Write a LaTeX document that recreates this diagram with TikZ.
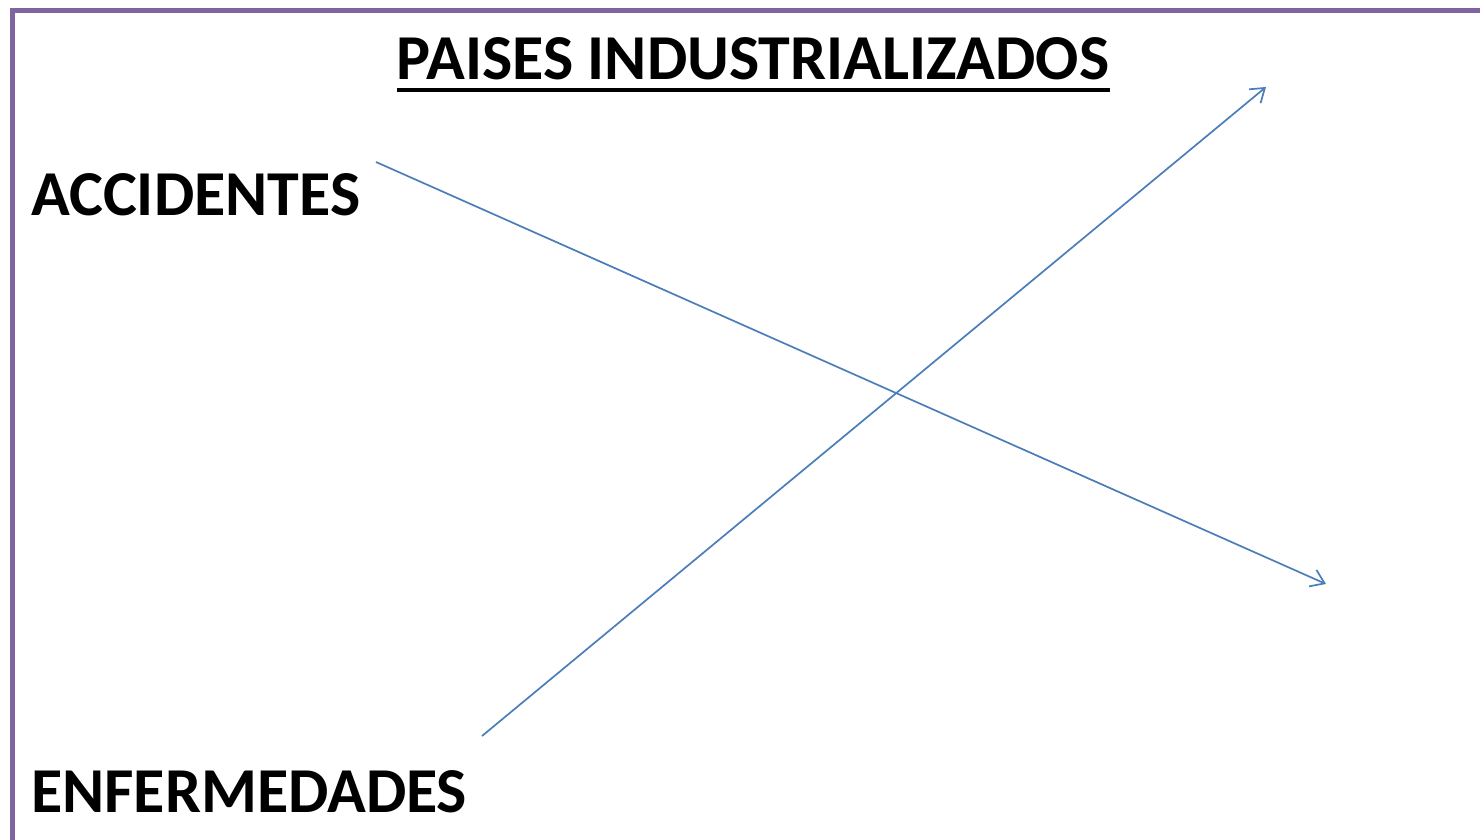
\documentclass[tikz,border=0pt]{standalone}
\usepackage{fontspec}
\setmainfont{Carlito}
\usetikzlibrary{arrows.meta}
\definecolor{frame}{HTML}{8064A2}
\definecolor{lineblue}{HTML}{4A7EBB}
\tikzset{
  lbl/.style={font=\fontsize{64}{64}\selectfont\bfseries, inner sep=0pt, anchor=base west},
  conn/.style={draw=lineblue, line width=1.7pt, -{Straight Barb[length=13pt,width=18pt,line width=1.7pt]}}
}
\begin{document}
\begin{tikzpicture}[x=1pt,y=-1pt]
\useasboundingbox (0,0) rectangle (1480,840);
\fill[white] (0,0) rectangle (1480,840);
\draw[frame, line width=5pt] (12.5,842) -- (12.5,10.5) -- (1482,10.5);
\node[lbl, anchor=base, inner sep=0pt] (title) at (753,80) {PAISES INDUSTRIALIZADOS};
\draw[line width=4pt] (397,90) -- (1110,90);
\node[lbl] (acc) at (31,215) {ACCIDENTES};
\node[lbl] (enf) at (31,812) {ENFERMEDADES};
\coordinate (a1) at (376,162);
\coordinate (a2) at (1326,584);
\coordinate (b1) at (482,736);
\coordinate (b2) at (1266,87);
\draw[conn] (a1) -- (a2);
\draw[conn] (b1) -- (b2);
\end{tikzpicture}
\end{document}
